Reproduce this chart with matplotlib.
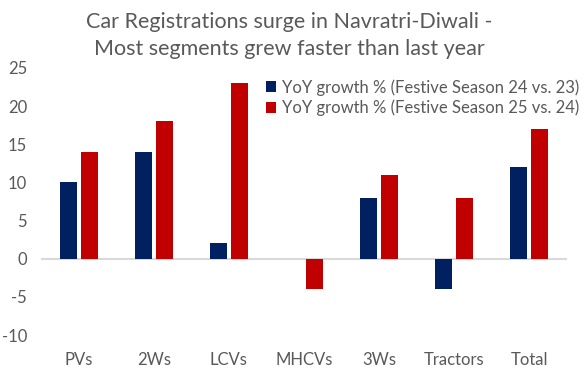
import matplotlib
matplotlib.use("Agg")
import matplotlib.pyplot as plt
import numpy as np

plt.rcParams['font.family'] = ['Lato', 'DejaVu Sans']

categories = ["PVs", "2Ws", "LCVs", "MHCVs", "3Ws", "Tractors", "Total"]
growth_24_vs_23 = [10, 14, 2, 0, 8, -4, 12]
growth_25_vs_24 = [14, 18, 23, -4, 11, 8, 17]
series_labels = ["YoY growth % (Festive Season 24 vs. 23)",
                 "YoY growth % (Festive Season 25 vs. 24)"]
yticks = [-10, -5, 0, 5, 10, 15, 20, 25]
title = "Car Registrations surge in Navratri-Diwali -\nMost segments grew faster than last year"

fig = plt.figure(figsize=(5.88, 3.76), dpi=100)
ax = fig.add_axes([41/588, 1-335/376, (567-41)/588, (335-68)/376])

x = np.arange(len(categories))
w = 0.225
off = 0.14
ax.bar(x - off, growth_24_vs_23, w, color="#002060", label=series_labels[0], zorder=3)
ax.bar(x + off, growth_25_vs_24, w, color="#C00000", label=series_labels[1], zorder=3)

ax.set_xlim(-0.5, len(categories) - 0.5)
ax.set_ylim(-10, 25)
ax.set_yticks(yticks)
ax.set_yticklabels([str(t) for t in yticks])
ax.axhline(0, color="#d9d9d9", lw=1.5, zorder=2)
for s in ax.spines.values():
    s.set_visible(False)
ax.tick_params(axis='both', length=0, labelsize=12, colors="#595959")
ax.set_xticks(x)
ax.set_xticklabels(categories)
ax.tick_params(axis='x', pad=12)
ax.tick_params(axis='y', pad=10)

leg = ax.legend(loc='upper left', bbox_to_anchor=((266-41)/(567-41), 1.0 - (79-68)/(335-68)),
                bbox_transform=ax.transAxes, frameon=False, fontsize=12,
                handlelength=0.6, handleheight=0.6, handletextpad=0.35,
                labelspacing=0.25, borderaxespad=0, borderpad=0)
for t in leg.get_texts():
    t.set_color("#595959")

fig.text(0.492, 1 - 12/376, title, ha='center', va='top', fontsize=15.5, color="#595959",
         linespacing=1.45)

fig.savefig("out.png", dpi=100)
